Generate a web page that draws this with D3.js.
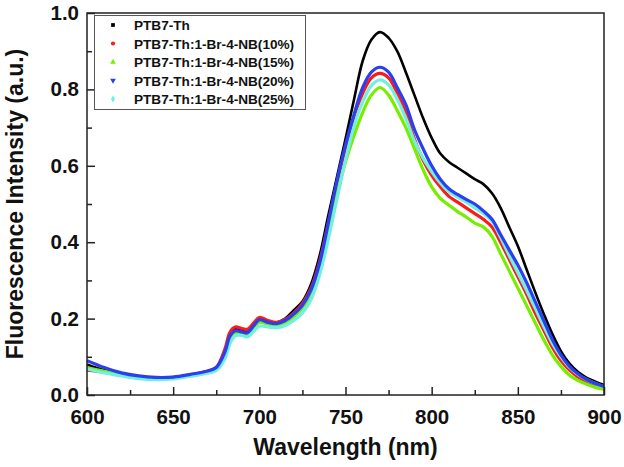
<!DOCTYPE html>
<html>
<head>
<meta charset="utf-8">
<script src="https://d3js.org/d3.v7.min.js"></script>
<style>
  body { margin: 0; background: #fff; }
  text { font-family: "Liberation Sans", Arial, sans-serif; font-weight: bold; }
</style>
</head>
<body>
<div id="chart"></div>
<script>
const wavelengths = [600,610,620,630,640,650,660,670,675,680,683,686,690,693,697,700,705,710,715,720,
  725,730,735,740,745,750,755,760,765,770,775,780,785,790,795,800,805,810,815,820,
  825,830,835,840,845,850,855,860,865,870,875,880,885,890,895,900];

const ptb7 = [0.080,0.065,0.054,0.047,0.044,0.046,0.053,0.062,0.072,0.115,0.160,0.172,0.168,0.167,0.185,0.198,0.193,0.190,0.200,0.222,
  0.245,0.290,0.365,0.470,0.570,0.670,0.775,0.875,0.930,0.950,0.935,0.900,0.845,0.785,0.725,0.673,0.632,0.610,0.595,0.580,
  0.565,0.552,0.528,0.490,0.440,0.390,0.330,0.270,0.213,0.160,0.115,0.082,0.060,0.045,0.035,0.026];

const nb10 = [0.065,0.060,0.052,0.047,0.045,0.046,0.053,0.062,0.072,0.120,0.165,0.178,0.174,0.172,0.190,0.203,0.195,0.190,0.198,0.215,
  0.240,0.280,0.350,0.450,0.555,0.645,0.730,0.790,0.830,0.842,0.830,0.790,0.740,0.670,0.615,0.575,0.545,0.520,0.505,0.490,
  0.475,0.460,0.440,0.400,0.355,0.310,0.265,0.215,0.170,0.125,0.090,0.065,0.047,0.035,0.025,0.018];

const nb15 = [0.072,0.062,0.053,0.046,0.043,0.045,0.052,0.060,0.068,0.108,0.150,0.163,0.160,0.158,0.177,0.190,0.186,0.183,0.190,0.205,
  0.228,0.265,0.330,0.425,0.525,0.610,0.680,0.740,0.785,0.805,0.785,0.745,0.700,0.645,0.590,0.545,0.515,0.497,0.480,0.466,
  0.450,0.440,0.415,0.370,0.325,0.280,0.235,0.190,0.145,0.105,0.075,0.052,0.038,0.028,0.020,0.015];

const nb20 = [0.090,0.072,0.058,0.050,0.046,0.047,0.054,0.063,0.072,0.112,0.155,0.168,0.165,0.163,0.183,0.197,0.190,0.187,0.195,0.212,
  0.235,0.275,0.345,0.450,0.560,0.655,0.735,0.805,0.845,0.858,0.845,0.805,0.760,0.695,0.645,0.600,0.565,0.540,0.525,0.512,
  0.500,0.482,0.460,0.420,0.380,0.340,0.295,0.245,0.195,0.145,0.105,0.075,0.055,0.040,0.030,0.022];

const nb25 = [0.068,0.058,0.050,0.043,0.040,0.042,0.049,0.057,0.064,0.095,0.135,0.155,0.156,0.152,0.168,0.180,0.178,0.176,0.182,0.195,
  0.215,0.250,0.315,0.408,0.512,0.615,0.705,0.768,0.810,0.825,0.812,0.775,0.725,0.665,0.620,0.585,0.555,0.532,0.518,0.505,
  0.490,0.475,0.455,0.412,0.365,0.320,0.275,0.228,0.180,0.135,0.100,0.072,0.053,0.040,0.030,0.021];

const seriesNames = ["PTB7-Th", "PTB7-Th:1-Br-4-NB(10%)", "PTB7-Th:1-Br-4-NB(15%)",
  "PTB7-Th:1-Br-4-NB(20%)", "PTB7-Th:1-Br-4-NB(25%)"];
const seriesValues = [ptb7, nb10, nb15, nb20, nb25];
const seriesColors = ["#000000", "#ff1a1a", "#77ee00", "#2a3ff0", "#6ff0e0"];
const symbols = [d3.symbolSquare, d3.symbolCircle, d3.symbolTriangle, d3.symbolTriangle, d3.symbolDiamond];
const drawOrder = [0, 1, 2, 4, 3];

const xTicks = [600, 650, 700, 750, 800, 850, 900];
const yTicks = [0.0, 0.2, 0.4, 0.6, 0.8, 1.0];

const W = 624, H = 467;
const m = { left: 87, right: 20, top: 13, bottom: 72 };

const svg = d3.select("#chart").append("svg")
  .attr("width", W).attr("height", H);

const x = d3.scaleLinear().domain([600, 900]).range([m.left, W - m.right]);
const y = d3.scaleLinear().domain([0, 1]).range([H - m.bottom, m.top]);

const line = d3.line()
  .x((d) => x(d[0]))
  .y((d) => y(d[1]))
  .curve(d3.curveCatmullRom.alpha(0.5));

const plot = svg.append("g");
drawOrder.forEach((i) => {
  plot.append("path")
    .datum(wavelengths.map((w, j) => [w, seriesValues[i][j]]))
    .attr("fill", "none")
    .attr("stroke", seriesColors[i])
    .attr("stroke-width", i === 0 ? 2.6 : 3.2)
    .attr("stroke-linejoin", "round")
    .attr("d", line);
});

// frame
svg.append("rect")
  .attr("x", x(600)).attr("y", y(1))
  .attr("width", x(900) - x(600)).attr("height", y(0) - y(1))
  .attr("fill", "none").attr("stroke", "#222").attr("stroke-width", 1.5);

// x axis, ticks inward
svg.append("g")
  .attr("transform", "translate(0," + y(0) + ")")
  .call(d3.axisBottom(x).tickValues(xTicks).tickSize(-8).tickPadding(14).tickFormat(d3.format("d")));
svg.append("g")
  .attr("transform", "translate(0," + y(0) + ")")
  .call(d3.axisBottom(x).tickValues([625, 675, 725, 775, 825, 875]).tickSize(-5).tickFormat(""));

svg.append("g")
  .attr("transform", "translate(" + x(600) + ",0)")
  .call(d3.axisLeft(y).tickValues(yTicks).tickSize(-8).tickPadding(8).tickFormat(d3.format(".1f")));
svg.append("g")
  .attr("transform", "translate(" + x(600) + ",0)")
  .call(d3.axisLeft(y).tickValues([0.1, 0.3, 0.5, 0.7, 0.9]).tickSize(-5).tickFormat(""));

svg.selectAll(".domain").remove();
svg.selectAll(".tick line").attr("stroke", "#222").attr("stroke-width", 1.5);
svg.selectAll(".tick text")
  .attr("font-size", 20.5)
  .attr("font-weight", "bold")
  .attr("font-family", "'Liberation Sans', Arial, sans-serif")
  .attr("fill", "#111");

// axis titles
svg.append("text")
  .attr("x", (x(600) + x(900)) / 2).attr("y", 455)
  .attr("text-anchor", "middle").attr("font-size", 23).attr("fill", "#111")
  .text("Wavelength (nm)");

svg.append("text")
  .attr("transform", "translate(23," + (y(0) + y(1)) / 2 + ") rotate(-90)")
  .attr("text-anchor", "middle").attr("font-size", 23).attr("fill", "#111")
  .text("Fluorescence Intensity (a.u.)");

// legend
const legend = svg.append("g");
legend.append("rect")
  .attr("x", 94.5).attr("y", 15.5).attr("width", 211).attr("height", 94)
  .attr("fill", "#fff").attr("stroke", "#555").attr("stroke-width", 1);

seriesNames.forEach((name, i) => {
  const ly = 25 + i * 18.5;
  legend.append("path")
    .attr("d", d3.symbol().type(symbols[i]).size(14)())
    .attr("transform", "translate(113," + ly + ")" + (i === 3 ? " rotate(180)" : ""))
    .attr("fill", seriesColors[i]);
  legend.append("text")
    .attr("x", 134).attr("y", ly + 5)
    .attr("font-size", 13.6).attr("fill", "#111")
    .text(name);
});
</script>
</body>
</html>
